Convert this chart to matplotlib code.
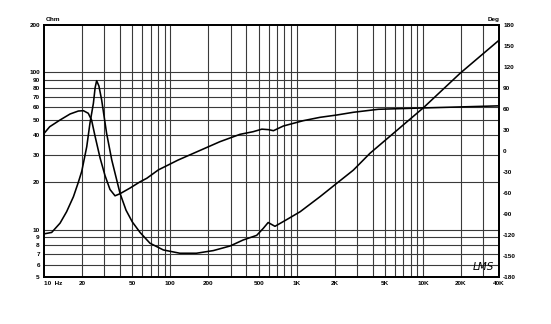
import matplotlib
matplotlib.use("Agg")
import matplotlib.pyplot as plt
from matplotlib.ticker import FixedLocator, NullLocator, NullFormatter

plt.rcParams['font.family'] = ['Liberation Sans', 'DejaVu Sans']

# impedance magnitude (Ohm)
imp_freq = [10, 11.5, 13.4, 15.1, 17.1, 18.7, 19.9, 21.8, 23.1, 24.6, 25.4, 26.1,
            27.2, 28.6, 31.3, 34.4, 40, 44.6, 50, 57.6, 69, 88, 119, 161, 219,
            297, 378, 483, 545, 595, 674, 837, 1066, 1531, 2077, 2812, 3811,
            10070, 19700, 40000]
imp_ohm = [9.4, 9.6, 11.0, 13.0, 16.2, 20.0, 23.5, 33.7, 47.4, 63.5, 80, 88.5,
           82, 66.8, 41, 27.7, 17.0, 13.3, 11.2, 9.6, 8.2, 7.43, 7.08, 7.08, 7.36,
           7.87, 8.6, 9.2, 10.2, 11.1, 10.5, 11.6, 13.0, 16.2, 19.7, 23.9, 30.6,
           59.5, 98.7, 160]

# phase (Deg)
ph_freq = [10, 11.1, 13.4, 16.1, 18.7, 20.5, 22.4, 23.8, 25.3, 27.8, 30.4, 33.3,
           36.5, 40, 47.9, 57.6, 65.1, 80.4, 115, 247, 356, 453, 530, 600, 655,
           720, 785, 1128, 1531, 2077, 2812, 4436, 10070, 40000]
ph_deg = [25, 34.7, 44.3, 52.9, 57.1, 57.6, 53.9, 44.3, 22, -10, -35, -55,
          -64, -61, -53, -44, -39, -27, -13, 13.3, 23.8, 27.6, 31.2, 30.5, 29,
          32.5, 35.7, 43.3, 48.1, 51.4, 55.3, 59.6, 61.5, 64.5]

x_grid = [20, 30, 40, 50, 60, 70, 80, 90, 100, 200, 300, 400, 500, 600, 700, 800,
          900, 1000, 2000, 3000, 4000, 5000, 6000, 7000, 8000, 9000, 10000, 20000, 30000]
x_ticks = [10, 20, 50, 100, 200, 500, 1000, 2000, 5000, 10000, 20000, 40000]
x_labels = ['10  Hz', '20', '50', '100', '200', '500', '1K', '2K', '5K', '10K', '20K', '40K']
y_ticks = [5, 6, 7, 8, 9, 10, 20, 30, 40, 50, 60, 70, 80, 90, 100, 200]
y_grid = [6, 7, 8, 9, 10, 20, 30, 40, 50, 60, 70, 80, 90, 100]
deg_ticks = [-180, -150, -120, -90, -60, -30, 0, 30, 60, 90, 120, 150, 180]

fig = plt.figure(figsize=(5.51, 3.24), dpi=100)
ax = fig.add_axes([44/551, 47/324, 455/551, 252/324])
ax.set_xscale('log')
ax.set_yscale('log')
ax.set_xlim(10, 40000)
ax.set_ylim(5, 200)

for g in x_grid:
    ax.axvline(g, color='#3a3a3a', lw=0.8, zorder=1)
for g in y_grid:
    ax.axhline(g, color='#3a3a3a', lw=0.8, zorder=1)

ax.plot(imp_freq, imp_ohm, color='black', lw=1.15, zorder=3)

fs = 4.6
ax.xaxis.set_major_locator(FixedLocator(x_ticks))
ax.set_xticklabels(x_labels, fontsize=fs, fontweight='bold')
ax.get_xticklabels()[0].set_horizontalalignment('left')
ax.xaxis.set_minor_locator(NullLocator())
ax.xaxis.set_minor_formatter(NullFormatter())
ax.yaxis.set_major_locator(FixedLocator(y_ticks))
ax.set_yticklabels([str(v) for v in y_ticks], fontsize=fs, fontweight='bold')
ax.yaxis.set_minor_locator(NullLocator())
ax.yaxis.set_minor_formatter(NullFormatter())
ax.tick_params(axis='both', length=0)
ax.tick_params(axis='x', pad=3)
ax.tick_params(axis='y', pad=3)
ax.text(0.004, 1.012, 'Ohm', transform=ax.transAxes, fontsize=fs, fontweight='bold',
        ha='left', va='bottom')

ax2 = ax.twinx()
ax2.set_ylim(-180, 180)
ax2.plot(ph_freq, ph_deg, color='black', lw=1.15, zorder=3)
ax2.yaxis.set_major_locator(FixedLocator(deg_ticks))
ax2.set_yticklabels([str(v) for v in deg_ticks], fontsize=fs, fontweight='bold')
ax2.tick_params(axis='y', length=0, pad=3)
ax2.text(1.0, 1.012, 'Deg', transform=ax2.transAxes, fontsize=fs, fontweight='bold',
         ha='right', va='bottom')
ax2.text(0.965, 0.04, 'LMS', transform=ax2.transAxes, fontsize=7.5, fontstyle='italic',
         family='DejaVu Sans', ha='center', va='center')

for a in (ax, ax2):
    for s in a.spines.values():
        s.set_linewidth(1.3)
        s.set_color('black')

fig.savefig('out.png', dpi=100)
